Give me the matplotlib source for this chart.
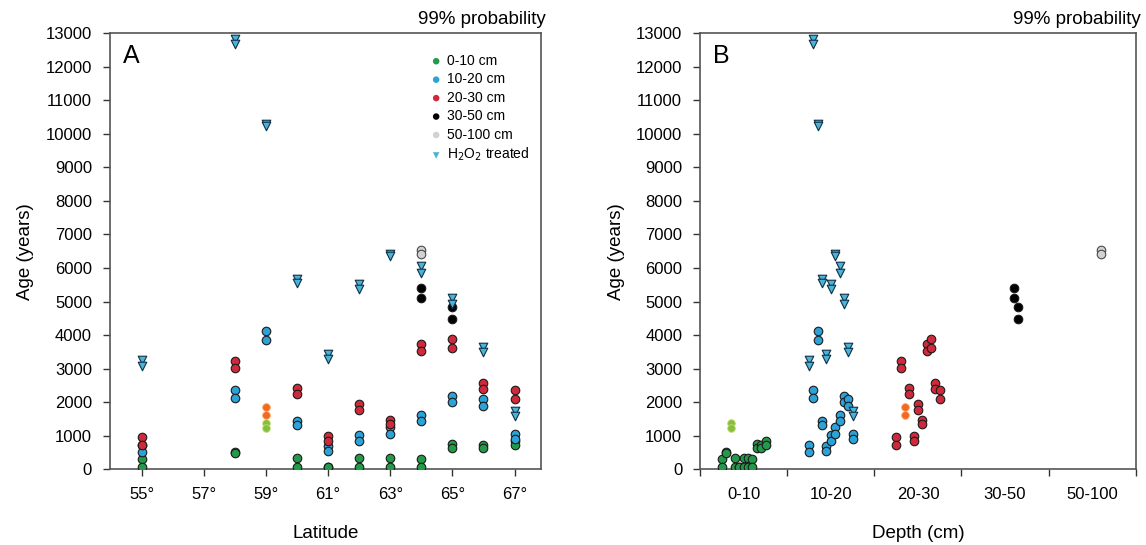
"""
Radiocarbon ages vs latitude (A) and depth (B).
"""
import matplotlib
matplotlib.use("Agg")
import matplotlib.pyplot as plt

plt.rcParams['font.family'] = ['Liberation Sans', 'DejaVu Sans']

# Sites (latitude), in the order they are offset inside each depth band
sites = [55, 58, 59, 60, 61, 62, 63, 64, 65, 66, 67]

# Two ages per site and depth (None = no sample)
age_0_10 = [(310, 60), (510, 490), None, (350, 60), (80, 60), (330, 60),
            (330, 60), (300, 80), (750, 630), (730, 630), (830, 730)]
age_10_20 = [(730, 500), (2360, 2110), (4130, 3860), (1430, 1330),
             (680, 530), (1030, 830), (1270, 1060), (1630, 1430),
             (2170, 2000), (2080, 1900), (1050, 900)]
age_20_30 = [(970, 730), (3240, 3020), None, (2420, 2250), (980, 830),
             (1950, 1780), (1480, 1360), (3740, 3520), (3890, 3620),
             (2570, 2400), (2370, 2100)]
age_30_50 = [None, None, None, None, None, None, None,
             (5390, 5120), (4850, 4490), None, None]
age_50_100 = [None, None, None, None, None, None, None,
              (6540, 6420), None, None, None]
# H2O2 treated samples (10-20 cm)
age_h2o2 = [(3270, 3070), (12820, 12670), (10290, 10240), (5670, 5540),
            (3440, 3290), (5510, 5370), (6430, 6360), (6050, 5840),
            (5100, 4940), (3640, 3510), (1740, 1590)]

# The 59° site is shown with lighter, edgeless markers
odd_site = 59
odd_0_10 = [1380, 1230]
odd_20_30 = [1850, 1630]

depth_labels = ['0-10', '10-20', '20-30', '30-50', '50-100']
lat_ticks = [55, 57, 59, 61, 63, 65, 67]

EDGE = '#1b1b1b'
series = [
    (age_0_10, 0, '#23994a', EDGE, 'o', '0-10 cm'),
    (age_10_20, 1, '#2ba2d8', EDGE, 'o', '10-20 cm'),
    (age_20_30, 2, '#cf2a3c', EDGE, 'o', '20-30 cm'),
    (age_30_50, 3, '#000000', EDGE, 'o', '30-50 cm'),
    (age_50_100, 4, '#d2d2d2', '#4a4a4a', 'o', '50-100 cm'),
    (age_h2o2, 1, '#4bb2d8', '#0e2f45', 'v', 'H$_2$O$_2$ treated'),
]


def band_x(band, k):
    """Position inside a depth band, ordered by site."""
    return band + 0.25 + 0.05 * k


def style_axes(ax, letter):
    ax.set_ylim(0, 13000)
    ax.set_yticks(range(0, 13001, 1000))
    ax.tick_params(axis='both', direction='out', length=5, width=1,
                   labelsize=12, pad=8, color='#333333')
    ax.set_ylabel('Age (years)', fontsize=13.5, labelpad=8)
    for sp in ax.spines.values():
        sp.set_color('#555555')
        sp.set_linewidth(1.2)
    ax.text(0.03, 0.975, letter, transform=ax.transAxes, fontsize=18,
            ha='left', va='top')
    ax.text(1.012, 1.012, '99% probability', transform=ax.transAxes,
            fontsize=13.5, ha='right', va='bottom')


def plot_panels():
    fig = plt.figure(figsize=(11.46, 5.45), dpi=100)
    ax_a = fig.add_axes([0.096, 0.139, 0.376, 0.80])
    ax_b = fig.add_axes([0.611, 0.139, 0.380, 0.80])

    # Panel A - by latitude
    for values, band, face, edge, marker, label in series:
        xs, ys = [], []
        for lat, pair in zip(sites, values):
            if pair is None:
                continue
            xs += [lat] * len(pair)
            ys += list(pair)
        ax_a.scatter(xs, ys, s=38, c=face, edgecolors=edge, linewidths=0.8,
                     marker=marker, zorder=3)
        ax_a.scatter([], [], s=22, c=face, edgecolors='none', marker=marker,
                     label=label)
    ax_a.scatter([odd_site] * 2, odd_20_30, s=30, c='#f26a22',
                 edgecolors='#f7a05a', linewidths=0.6, zorder=3)
    ax_a.scatter([odd_site] * 2, odd_0_10, s=30, c='#86bf3f',
                 edgecolors='#c3d96a', linewidths=0.6, zorder=3)

    ax_a.set_xlim(53.98, 67.85)
    ax_a.set_xticks(lat_ticks)
    ax_a.set_xticklabels([f'{v}°' for v in lat_ticks])
    ax_a.set_xlabel('Latitude', fontsize=13.5, labelpad=16)
    style_axes(ax_a, 'A')
    ax_a.legend(loc='upper left', bbox_to_anchor=(0.715, 0.975),
                frameon=False, fontsize=10, handletextpad=0.2,
                handlelength=1.2, labelspacing=0.32, borderpad=0.2)

    # Panel B - by depth band
    for values, band, face, edge, marker, label in series:
        xs, ys = [], []
        for k, pair in enumerate(values):
            if pair is None:
                continue
            xs += [band_x(band, k)] * len(pair)
            ys += list(pair)
        ax_b.scatter(xs, ys, s=38, c=face, edgecolors=edge, linewidths=0.8,
                     marker=marker, zorder=3)
    k_odd = sites.index(odd_site)
    ax_b.scatter([band_x(2, k_odd)] * 2, odd_20_30, s=30, c='#f26a22',
                 edgecolors='#f7a05a', linewidths=0.6, zorder=3)
    ax_b.scatter([band_x(0, k_odd)] * 2, odd_0_10, s=30, c='#86bf3f',
                 edgecolors='#c3d96a', linewidths=0.6, zorder=3)

    ax_b.set_xlim(0, 5)
    ax_b.set_xticks(range(6))
    ax_b.set_xticklabels([])
    ax_b.set_xticks([i + 0.5 for i in range(5)], minor=True)
    ax_b.set_xticklabels(depth_labels, minor=True)
    ax_b.tick_params(axis='x', which='minor', length=0, labelsize=12, pad=13)
    ax_b.set_xlabel('Depth (cm)', fontsize=13.5, labelpad=16)
    style_axes(ax_b, 'B')

    fig.savefig('out.png', dpi=100)


if __name__ == "__main__":
    plot_panels()
